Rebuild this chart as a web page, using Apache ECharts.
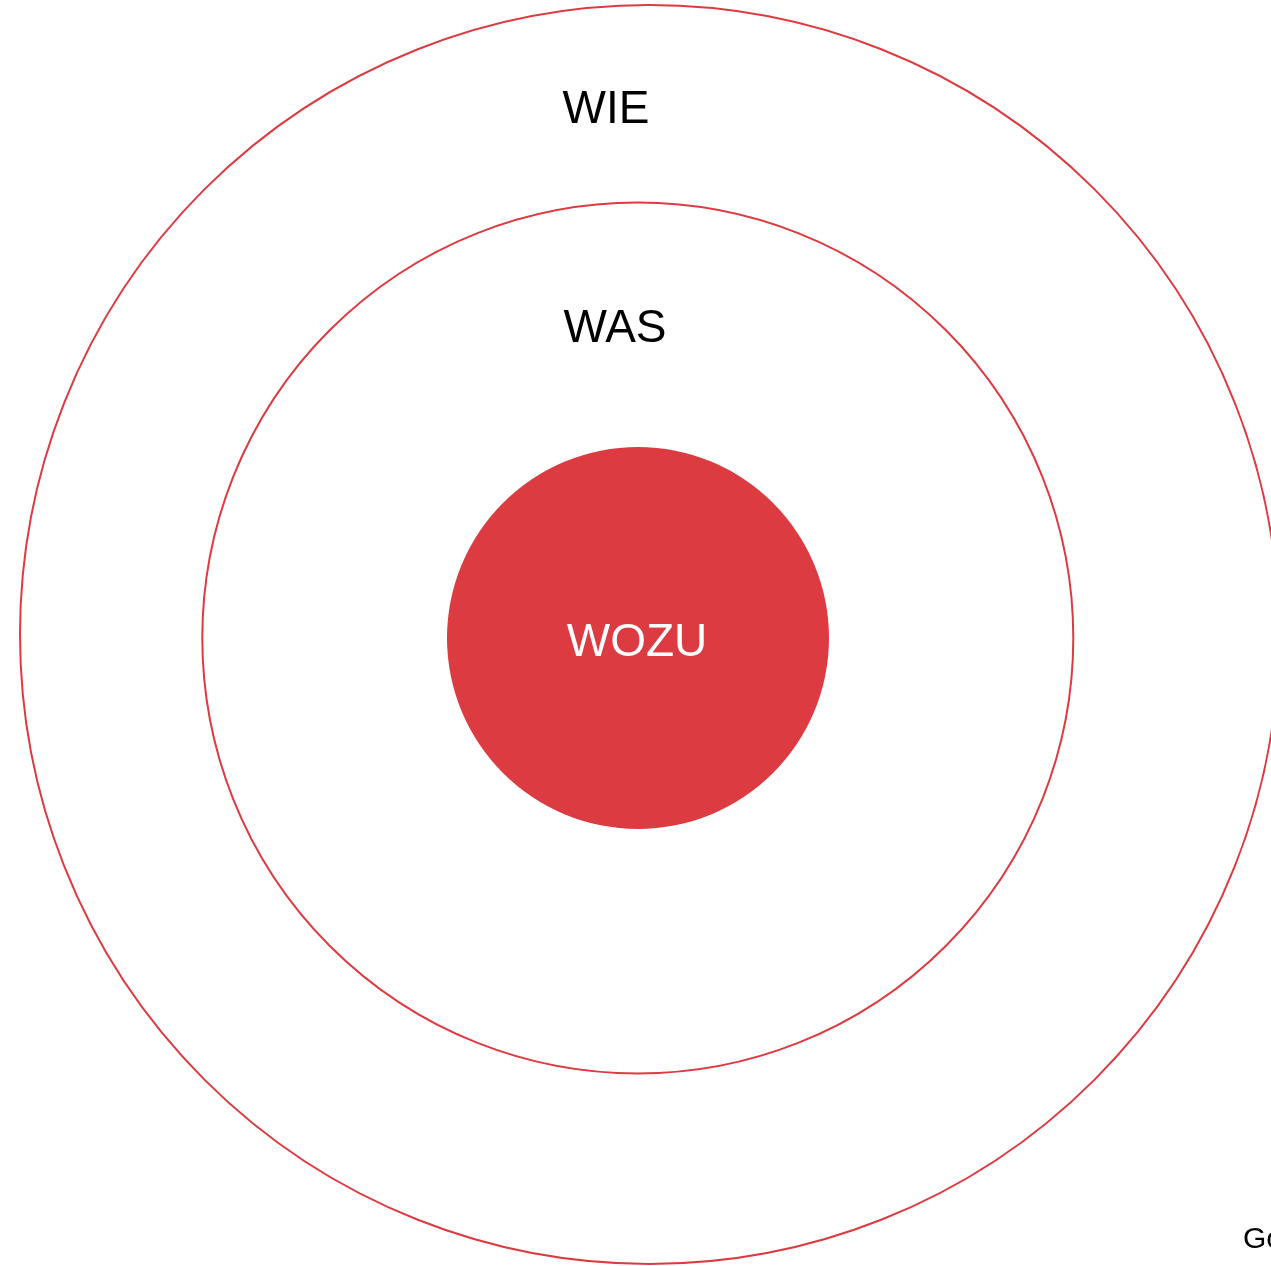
<!DOCTYPE html>
<html>
<head>
<meta charset="utf-8">
<script src="https://cdn.jsdelivr.net/npm/echarts@6/dist/echarts.min.js"></script>
<style>
html,body{margin:0;padding:0;background:#fff;overflow:hidden;}
#chart{width:1271px;height:1266px;}
</style>
</head>
<body>
<div id="chart"></div>
<script>
// Circles (outer ring, middle ring, filled core)
const circleNames = ['WIE', 'WAS', 'WOZU'];
const circleX = [649.5, 637.8, 638];
const circleY = [634.5, 638, 638];
const circleR = [629.5, 435.5, 191];
const circleFilled = [false, false, true];

// Text labels
const labelText = ['WIE', 'WAS', 'WOZU', 'Golden Circle'];
const labelX = [606, 615, 637, 1243];
const labelY = [110, 329.5, 643, 1240];

const RED = '#dc3b41';

const circleData = circleNames.map((n, i) => ({
  name: n,
  value: [circleX[i], circleY[i], circleR[i]],
  itemStyle: circleFilled[i]
    ? { color: RED, borderWidth: 0, opacity: 1 }
    : { color: 'rgba(255,255,255,0)', borderColor: RED, borderWidth: 2, opacity: 1 }
}));

const labelData = labelText.map((t, i) => {
  const isCore = i === 2;
  const isFoot = i === 3;
  return {
    name: t,
    value: [labelX[i], labelY[i]],
    itemStyle: { opacity: 1 },
    label: {
      show: true,
      position: 'inside',
      formatter: t,
      color: isCore ? '#ffffff' : '#000000',
      opacity: 1,
      fontSize: isFoot ? 30 : 46,
      fontFamily: 'Liberation Sans, Arial, sans-serif',
      align: isFoot ? 'left' : 'center',
      verticalAlign: 'middle'
    }
  };
});

const chart = echarts.init(document.getElementById('chart'), null, { renderer: 'canvas' });
chart.setOption({
  animation: false,
  backgroundColor: '#ffffff',
  grid: { left: 0, right: 0, top: 0, bottom: 0 },
  xAxis: { type: 'value', min: 0, max: 1271, show: false },
  yAxis: { type: 'value', min: 0, max: 1266, inverse: true, show: false },
  series: [
    {
      type: 'scatter',
      silent: true,
      symbol: 'circle',
      symbolSize: function (v) { return v[2] * 2; },
      itemStyle: { opacity: 1 },
      data: circleData,
      label: { show: false },
      z: 1
    },
    {
      type: 'scatter',
      silent: true,
      symbolSize: 0,
      itemStyle: { opacity: 1 },
      data: labelData,
      z: 5
    }
  ]
});
</script>
</body>
</html>
